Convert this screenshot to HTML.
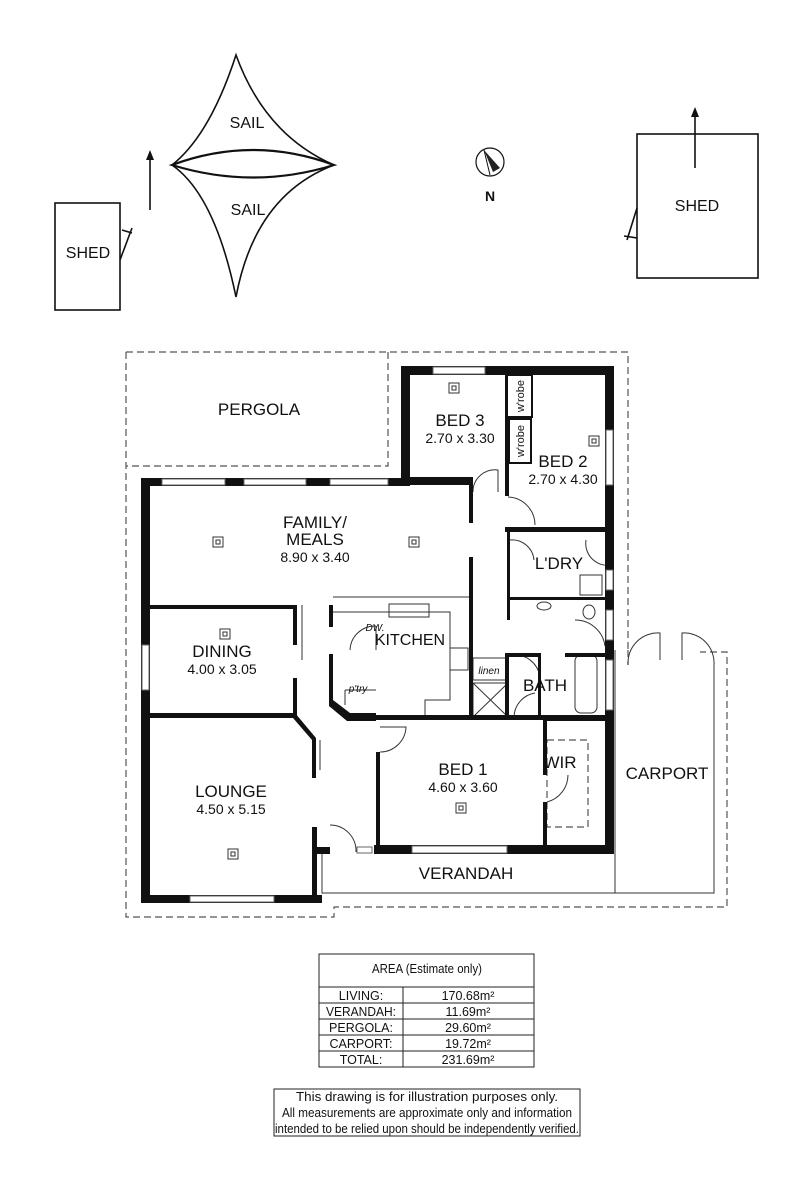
<!DOCTYPE html>
<html><head><meta charset="utf-8"><style>
html,body{margin:0;padding:0;background:#fff;}
svg{display:block;}
text{font-family:"Liberation Sans",Arial,sans-serif;fill:#111;}
</style></head><body>
<svg width="811" height="1200" viewBox="0 0 811 1200" xmlns="http://www.w3.org/2000/svg">
<!-- Sail -->
<g fill="none" stroke="#111" stroke-width="1.6">
<path d="M236,55 Q210,135 172,165 Q215,195 236,297 Q255,195 334,165 Q265,135 236,55 Z"/>
<path d="M172,165 Q253,135 334,165 Q253,190 172,165 Z" stroke-width="2.2"/>
<rect x="55" y="203" width="65" height="107"/>
<line x1="120" y1="260" x2="132" y2="228"/><line x1="122" y1="230" x2="132" y2="233"/>
<line x1="150" y1="210" x2="150" y2="158"/>
<rect x="637" y="134" width="121" height="144"/>
<line x1="695" y1="168" x2="695" y2="115"/>
<line x1="637" y1="208" x2="627" y2="240"/><line x1="624" y1="236" x2="637" y2="238"/>
<circle cx="490" cy="162" r="14" stroke-width="1.2"/>
</g>
<polygon points="150,150 146,160 154,160" fill="#111"/>
<polygon points="695,107 691,117 699,117" fill="#111"/>
<polygon points="484,150 500,168 493,172" fill="#222"/>
<line x1="484" y1="150" x2="490" y2="175" stroke="#111"/>
<text x="247" y="128" font-size="16" text-anchor="middle">SAIL</text>
<text x="248" y="215" font-size="16" text-anchor="middle">SAIL</text>
<text x="88" y="258" font-size="16" text-anchor="middle">SHED</text>
<text x="697" y="211" font-size="16" text-anchor="middle">SHED</text>
<text x="490" y="201" font-size="14" font-weight="bold" text-anchor="middle">N</text>

<!-- Dashed outlines -->
<g fill="none" stroke="#555" stroke-width="1.2" stroke-dasharray="7,4">
<path d="M126,352 H628 V650"/>
<path d="M126,352 V917 H334 V907 H727 V652 H700"/>
<path d="M388,352 V466 H126"/>
<rect x="547" y="740" width="41" height="87"/>
<path d="M628,650 V665"/>
</g>
<!-- thin lines -->
<g fill="none" stroke="#333" stroke-width="1">
<path d="M322,854 V893 H615"/>
<path d="M615,650 V893 M714,665 V893 H615"/>
<path d="M333,597 H470 M333,612 H450 V700 H425 V717"/>
<rect x="389" y="604" width="40" height="13"/>
<rect x="450" y="648" width="18" height="22"/>
<rect x="473" y="683" width="35" height="34"/><path d="M473,683 L508,717 M508,683 L473,717"/>
<rect x="473" y="658" width="34" height="22"/>
<rect x="575" y="655" width="22" height="58" rx="6"/>
<rect x="580" y="575" width="22" height="20"/>
<ellipse cx="544" cy="606" rx="7" ry="4"/>
<ellipse cx="589" cy="612" rx="6" ry="7"/>
<path d="M345,690 H376 M345,690 V705"/>
<!-- door arcs -->
<path d="M473,492 A22,22 0 0 1 498,470 V492"/>
<path d="M508,497 A28,28 0 0 1 535,525"/>
<path d="M586,540 A22,22 0 0 0 612,565"/>
<path d="M510,540 A22,22 0 0 1 534,560"/>
<path d="M575,620 A30,30 0 0 1 605,646"/>
<path d="M517,655 A25,25 0 0 1 540,680"/>
<path d="M514,717 A25,25 0 0 1 535,693"/>
<path d="M376,626 A25,25 0 0 0 350,650 M376,626 V650"/>
<path d="M380,752 A26,26 0 0 0 406,727 H380"/>
<path d="M547,802 A28,28 0 0 0 568,775"/>
<path d="M330,825 A26,26 0 0 1 356,852"/>
<path d="M628,665 A30,30 0 0 1 660,633 V660 M714,665 A30,30 0 0 0 682,633 V660"/>
<path d="M302,605 V660 M320,740 V770"/>
</g>
<!-- walls -->
<g fill="#111">
<rect x="141" y="478" width="9" height="424"/>
<rect x="141" y="478" width="268" height="8"/>
<rect x="401" y="366" width="9" height="120"/>
<rect x="401" y="366" width="212" height="9"/>
<rect x="605" y="366" width="9" height="488"/>
<rect x="401" y="477" width="72" height="8"/>
<rect x="469" y="477" width="4" height="46"/>
<rect x="469" y="557" width="4" height="160"/>
<rect x="505" y="366" width="4" height="130"/>
<rect x="505" y="527" width="108" height="5"/>
<rect x="507" y="532" width="3" height="88"/>
<rect x="507" y="597" width="106" height="3"/>
<rect x="505" y="653" width="36" height="4"/>
<rect x="565" y="653" width="48" height="4"/>
<rect x="538" y="653" width="3" height="65"/>
<rect x="505" y="653" width="4" height="65"/>
<rect x="150" y="605" width="147" height="4"/>
<rect x="293" y="605" width="4" height="40"/>
<rect x="293" y="678" width="4" height="40"/>
<rect x="329" y="605" width="4" height="22"/>
<rect x="329" y="654" width="4" height="46"/>
<polygon points="329,700 333,700 350,713 376,713 376,721 347,721 329,706"/>
<rect x="347" y="715" width="266" height="5"/>
<rect x="376" y="752" width="4" height="102"/>
<rect x="543" y="718" width="4" height="57"/>
<rect x="543" y="802" width="4" height="46"/>
<rect x="543" y="717" width="70" height="4"/>
<rect x="374" y="845" width="240" height="9"/>
<polygon points="141,713 295,713 316,738 316,778 312,778 312,740 293,718 141,718"/>
<rect x="312" y="827" width="5" height="70"/>
<rect x="141" y="895" width="181" height="8"/>
<rect x="317" y="847" width="13" height="7"/>
</g>
<!-- windows -->
<g fill="#fff" stroke="#666" stroke-width="1">
<rect x="162" y="479" width="63" height="6"/>
<rect x="244" y="479" width="62" height="6"/>
<rect x="330" y="479" width="58" height="6"/>
<rect x="433" y="367" width="52" height="7"/>
<rect x="606" y="430" width="7" height="55"/>
<rect x="606" y="570" width="7" height="20"/>
<rect x="606" y="610" width="7" height="30"/>
<rect x="606" y="660" width="7" height="50"/>
<rect x="142" y="645" width="7" height="45"/>
<rect x="190" y="896" width="84" height="6"/>
<rect x="412" y="846" width="95" height="7"/>
<rect x="357" y="847" width="15" height="6"/>
</g>
<!-- wardrobes -->
<g fill="#fff" stroke="#111" stroke-width="2">
<rect x="507" y="375" width="25" height="42"/>
<rect x="509" y="419" width="22" height="44"/>
</g>
<text transform="translate(524,396) rotate(-90)" font-size="11" text-anchor="middle">w'robe</text>
<text transform="translate(524,441) rotate(-90)" font-size="11" text-anchor="middle">w'robe</text>
<!-- light fittings -->
<g fill="none" stroke="#333" stroke-width="1">
<rect x="449" y="383" width="10" height="10"/><rect x="452" y="386" width="4" height="4"/>
<rect x="589" y="436" width="10" height="10"/><rect x="592" y="439" width="4" height="4"/>
<rect x="213" y="537" width="10" height="10"/><rect x="216" y="540" width="4" height="4"/>
<rect x="409" y="537" width="10" height="10"/><rect x="412" y="540" width="4" height="4"/>
<rect x="220" y="629" width="10" height="10"/><rect x="223" y="632" width="4" height="4"/>
<rect x="456" y="803" width="10" height="10"/><rect x="459" y="806" width="4" height="4"/>
<rect x="228" y="849" width="10" height="10"/><rect x="231" y="852" width="4" height="4"/>
</g>
<!-- labels -->
<g text-anchor="middle">
<text x="259" y="415" font-size="17">PERGOLA</text>
<text x="460" y="426" font-size="17">BED 3</text>
<text x="460" y="443" font-size="14">2.70 x 3.30</text>
<text x="563" y="467" font-size="17">BED 2</text>
<text x="563" y="484" font-size="14">2.70 x 4.30</text>
<text x="315" y="528" font-size="17">FAMILY/</text>
<text x="315" y="545" font-size="17">MEALS</text>
<text x="315" y="562" font-size="14">8.90 x 3.40</text>
<text x="559" y="569" font-size="17">L'DRY</text>
<text x="222" y="657" font-size="17">DINING</text>
<text x="222" y="674" font-size="14">4.00 x 3.05</text>
<text x="410" y="645" font-size="16">KITCHEN</text>
<text x="375" y="631" font-size="10" font-style="italic">DW.</text>
<text x="358" y="692" font-size="10" font-style="italic">p'try</text>
<text x="489" y="674" font-size="10" font-style="italic">linen</text>
<text x="545" y="691" font-size="17">BATH</text>
<text x="463" y="775" font-size="17">BED 1</text>
<text x="463" y="792" font-size="14">4.60 x 3.60</text>
<text x="560" y="768" font-size="17">WIR</text>
<text x="667" y="779" font-size="17">CARPORT</text>
<text x="231" y="797" font-size="17">LOUNGE</text>
<text x="231" y="814" font-size="14">4.50 x 5.15</text>
<text x="466" y="879" font-size="17">VERANDAH</text>
</g>
<!-- area table -->
<g fill="none" stroke="#222" stroke-width="1">
<rect x="319" y="954" width="215" height="113"/>
<path d="M319,987 H534 M319,1003 H534 M319,1019 H534 M319,1035 H534 M319,1051 H534 M403,987 V1067"/>
<rect x="274" y="1089" width="306" height="47"/>
</g>
<g font-size="12.5" text-anchor="middle">
<text x="427" y="973" textLength="110" lengthAdjust="spacingAndGlyphs">AREA (Estimate only)</text>
<text x="361" y="1000">LIVING:</text><text x="468" y="1000">170.68m²</text>
<text x="361" y="1016" textLength="70" lengthAdjust="spacingAndGlyphs">VERANDAH:</text><text x="468" y="1016">11.69m²</text>
<text x="361" y="1032">PERGOLA:</text><text x="468" y="1032">29.60m²</text>
<text x="361" y="1048">CARPORT:</text><text x="468" y="1048">19.72m²</text>
<text x="361" y="1064">TOTAL:</text><text x="468" y="1064">231.69m²</text>
<text x="427" y="1101" textLength="262" lengthAdjust="spacingAndGlyphs">This drawing is for illustration purposes only.</text>
<text x="427" y="1117" textLength="290" lengthAdjust="spacingAndGlyphs">All measurements are approximate only and information</text>
<text x="427" y="1133" textLength="304" lengthAdjust="spacingAndGlyphs">intended to be relied upon should be independently verified.</text>
</g>
</svg>
</body></html>
